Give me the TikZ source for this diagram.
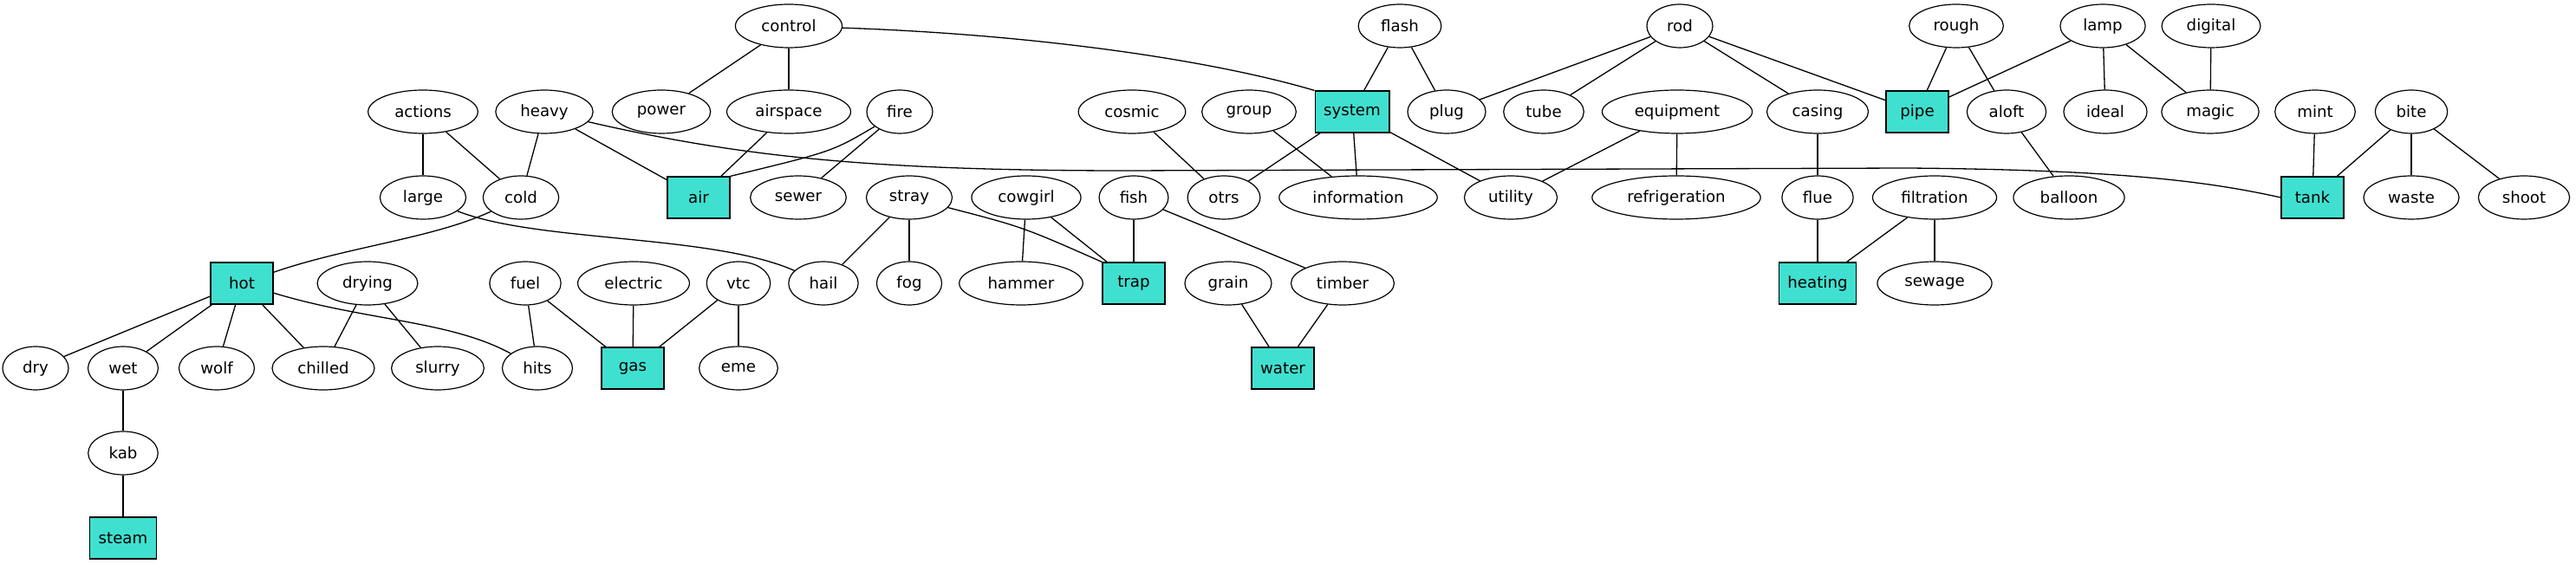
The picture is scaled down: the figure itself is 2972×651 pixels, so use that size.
\documentclass[tikz,border=0pt]{standalone}
\usepackage{fontspec}
\setmainfont{DejaVu Sans}
\usepackage{tikz}
\usetikzlibrary{shapes.geometric}
\usepackage{xcolor}
\definecolor{hubfill}{RGB}{64,224,208}

\begin{document}
\begin{tikzpicture}[
  x=0.5pt, y=-0.5pt,
  oval/.style={ellipse, draw, line width=0.6pt, font=\fontsize{9.1}{11}\selectfont, inner xsep=6pt, inner ysep=0pt, minimum width=36pt, minimum height=25pt},
  box/.style={rectangle, draw, line width=0.6pt, fill=hubfill, font=\fontsize{9.1}{11}\selectfont, inner xsep=5pt, inner ysep=0pt, minimum width=36pt, minimum height=24pt},
  link/.style={line width=0.65pt}
]
\useasboundingbox (0,0) rectangle (2972,651);

\node[oval] (control) at (910,30) {control};
\node[oval] (flash) at (1615,30) {flash};
\node[oval] (rod) at (1938,30) {rod};
\node[oval] (rough) at (2257,30) {rough};
\node[oval] (lamp) at (2426,30) {lamp};
\node[oval] (digital) at (2551,30) {digital};

\node[oval] (actions) at (488,129) {actions};
\node[oval] (heavy) at (628,129) {heavy};
\node[oval] (power) at (763,129) {power};
\node[oval] (airspace) at (910,129) {airspace};
\node[oval] (fire) at (1038,129) {fire};
\node[oval] (cosmic) at (1306,129) {cosmic};
\node[oval] (group) at (1441,129) {group};
\node[box] (system) at (1560,129) {system};
\node[oval] (plug) at (1669,129) {plug};
\node[oval] (tube) at (1781,129) {tube};
\node[oval] (equipment) at (1935,129) {equipment};
\node[oval] (casing) at (2097,129) {casing};
\node[box] (pipe) at (2212,129) {pipe};
\node[oval] (aloft) at (2315,129) {aloft};
\node[oval] (ideal) at (2429,129) {ideal};
\node[oval] (magic) at (2550,129) {magic};
\node[oval] (mint) at (2671,129) {mint};
\node[oval] (bite) at (2782,129) {bite};

\node[oval] (large) at (488,228) {large};
\node[oval] (cold) at (601,228) {cold};
\node[box] (air) at (806,228) {air};
\node[oval] (sewer) at (921,228) {sewer};
\node[oval] (stray) at (1049,228) {stray};
\node[oval] (cowgirl) at (1184,228) {cowgirl};
\node[oval] (fish) at (1308,228) {fish};
\node[oval] (otrs) at (1412,228) {otrs};
\node[oval] (information) at (1567,228) {information};
\node[oval] (utility) at (1743,228) {utility};
\node[oval] (refrigeration) at (1934,228) {refrigeration};
\node[oval] (flue) at (2097,228) {flue};
\node[oval] (filtration) at (2232,228) {filtration};
\node[oval] (balloon) at (2387,228) {balloon};
\node[box] (tank) at (2668,228) {tank};
\node[oval] (waste) at (2782,228) {waste};
\node[oval] (shoot) at (2912,228) {shoot};

\node[box] (hot) at (279,327) {hot};
\node[oval] (drying) at (424,327) {drying};
\node[oval] (fuel) at (606,327) {fuel};
\node[oval] (electric) at (731,327) {electric};
\node[oval] (vtc) at (852,327) {vtc};
\node[oval] (hail) at (950,327) {hail};
\node[oval] (fog) at (1049,327) {fog};
\node[oval] (hammer) at (1178,327) {hammer};
\node[box] (trap) at (1308,327) {trap};
\node[oval] (grain) at (1417,327) {grain};
\node[oval] (timber) at (1549,327) {timber};
\node[box] (heating) at (2097,327) {heating};
\node[oval] (sewage) at (2232,327) {sewage};

\node[oval] (dry) at (41,425) {dry};
\node[oval] (wet) at (142,425) {wet};
\node[oval] (wolf) at (250,425) {wolf};
\node[oval] (chilled) at (373,425) {chilled};
\node[oval] (slurry) at (505,425) {slurry};
\node[oval] (hits) at (620,425) {hits};
\node[box] (gas) at (730,425) {gas};
\node[oval] (eme) at (852,425) {eme};
\node[box] (water) at (1480,425) {water};

\node[oval] (kab) at (142,523) {kab};
\node[box] (steam) at (142,621) {steam};

\draw[link] (actions) -- (large);
\draw[link] (actions) -- (cold);
\draw[link] (heavy) -- (cold);
\draw[link] (heavy) -- (air);
\draw[link] (heavy) .. controls (850,180) and (1000,197) .. (1300,197) -- (2200,194) .. controls (2450,196) and (2550,210) .. (tank.west);
\draw[link] (control) -- (power);
\draw[link] (control) -- (airspace);
\draw[link] (control) .. controls (1200,40) and (1400,70) .. (system.north west);
\draw[link] (airspace) -- (air);
\draw[link] (fire) .. controls (960,175) .. (air.north east);
\draw[link] (fire) -- (sewer);
\draw[link] (cosmic) -- (otrs);
\draw[link] (group) -- (information);
\draw[link] (system) -- (otrs);
\draw[link] (system) -- (information);
\draw[link] (system) -- (utility);
\draw[link] (flash) -- (system);
\draw[link] (flash) -- (plug);
\draw[link] (rod) -- (plug);
\draw[link] (rod) -- (tube);
\draw[link] (rod) -- (casing);
\draw[link] (rod) -- (pipe);
\draw[link] (equipment) -- (utility);
\draw[link] (equipment) -- (refrigeration);
\draw[link] (casing) -- (flue);
\draw[link] (flue) -- (heating);
\draw[link] (filtration) -- (heating);
\draw[link] (filtration) -- (sewage);
\draw[link] (rough) -- (pipe);
\draw[link] (rough) -- (aloft);
\draw[link] (lamp) -- (pipe);
\draw[link] (lamp) -- (ideal);
\draw[link] (lamp) -- (magic);
\draw[link] (digital) -- (magic);
\draw[link] (aloft) -- (balloon);
\draw[link] (mint) -- (tank);
\draw[link] (bite) -- (tank);
\draw[link] (bite) -- (waste);
\draw[link] (bite) -- (shoot);
\draw[link] (cold) .. controls (500,275) and (400,285) .. (hot);
\draw[link] (large) .. controls (620,280) and (820,270) .. (hail);
\draw[link] (stray) -- (hail);
\draw[link] (stray) -- (fog);
\draw[link] (stray) .. controls (1180,262) .. (trap.north west);
\draw[link] (cowgirl) -- (hammer);
\draw[link] (cowgirl) -- (trap);
\draw[link] (fish) -- (trap);
\draw[link] (fish) -- (timber);
\draw[link] (hot) -- (dry);
\draw[link] (hot) -- (wet);
\draw[link] (hot) -- (wolf);
\draw[link] (hot) -- (chilled);
\draw[link] (hot) .. controls (420,370) and (520,370) .. (hits);
\draw[link] (drying) -- (chilled);
\draw[link] (drying) -- (slurry);
\draw[link] (fuel) -- (hits);
\draw[link] (fuel) -- (gas);
\draw[link] (electric) -- (gas);
\draw[link] (vtc) -- (gas);
\draw[link] (vtc) -- (eme);
\draw[link] (grain) -- (water);
\draw[link] (timber) -- (water);
\draw[link] (wet) -- (kab);
\draw[link] (kab) -- (steam);

\end{tikzpicture}
\end{document}
